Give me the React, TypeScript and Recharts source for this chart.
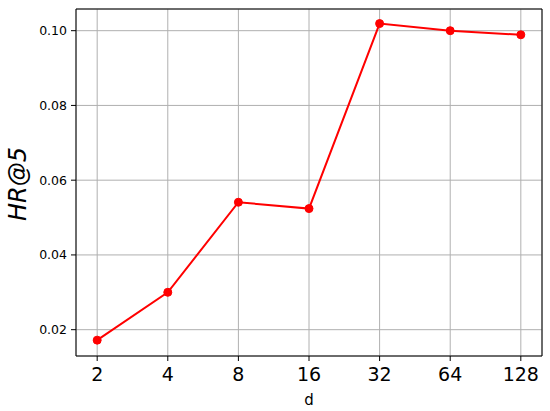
import React from 'react';
import { LineChart, Line, XAxis, YAxis, CartesianGrid, ReferenceArea, Label } from 'recharts';

const categories = ['2', '4', '8', '16', '32', '64', '128'];
const hrAt5 = [0.0172, 0.0300, 0.0541, 0.0524, 0.1019, 0.1000, 0.0989];
const yTicks = [0.02, 0.04, 0.06, 0.08, 0.1];
const xLabel = 'd';
const yLabel = 'HR@5';

const data = categories.map((c, i) => ({ idx: i, name: c, value: hrAt5[i] }));

const X_MIN = -0.3;
const X_MAX = 6.3;
const Y_MIN = 0.01296;
const Y_MAX = 0.1058;

export default function App() {
  return (
    <div style={{ position: 'absolute', left: 0, top: 0, background: '#fff' }}>
      <LineChart
        width={550}
        height={411}
        data={data}
        margin={{ top: 9, right: 8, bottom: 0, left: 0 }}
        style={{ fontFamily: 'DejaVu Sans' }}
      >
        <CartesianGrid stroke="#b0b0b0" strokeWidth={1} />
        <XAxis
          dataKey="idx"
          type="number"
          domain={[X_MIN, X_MAX]}
          ticks={[0, 1, 2, 3, 4, 5, 6]}
          tickFormatter={(v: number) => categories[v]}
          allowDataOverflow
          height={55}
          tickSize={5}
          tickMargin={7}
          axisLine={false}
          tickLine={{ stroke: '#000', strokeWidth: 1 }}
          tick={{ fill: '#000', fontSize: 19, fontFamily: 'DejaVu Sans' }}
          interval={0}
        >
          <Label
            content={(props: any) => {
              const vb = props.viewBox || {};
              const cx = (vb.x ?? 76) + (vb.width ?? 466) / 2;
              return (
                <text x={cx} y={405} textAnchor="middle" fontSize={15} fill="#000" fontFamily="DejaVu Sans">
                  {xLabel}
                </text>
              );
            }}
          />
        </XAxis>
        <YAxis
          type="number"
          domain={[Y_MIN, Y_MAX]}
          ticks={yTicks}
          allowDataOverflow
          width={76}
          tickSize={5}
          tickMargin={4}
          axisLine={false}
          tickLine={{ stroke: '#000', strokeWidth: 1 }}
          tick={{ fill: '#000', fontSize: 12.5, fontFamily: 'DejaVu Sans' }}
          tickFormatter={(v: number) => v.toFixed(2)}
          interval={0}
        >
          <Label
            content={() => (
              <text
                x={26}
                y={184}
                transform="rotate(-90, 26, 184)"
                textAnchor="middle"
                fontSize={24}
                fontStyle="italic"
                fill="#000"
                fontFamily="DejaVu Sans"
              >
                {yLabel}
              </text>
            )}
          />
        </YAxis>
        <ReferenceArea
          x1={X_MIN}
          x2={X_MAX}
          y1={Y_MIN}
          y2={Y_MAX}
          fill="none"
          fillOpacity={0}
          stroke="#000"
          strokeWidth={1}
          ifOverflow="visible"
        />
        <Line
          dataKey="value"
          stroke="#ff0000"
          strokeWidth={2}
          dot={{ r: 4, fill: '#ff0000', stroke: '#ff0000', strokeWidth: 1 }}
          activeDot={false}
          isAnimationActive={false}
          type="linear"
        />
      </LineChart>
    </div>
  );
}
